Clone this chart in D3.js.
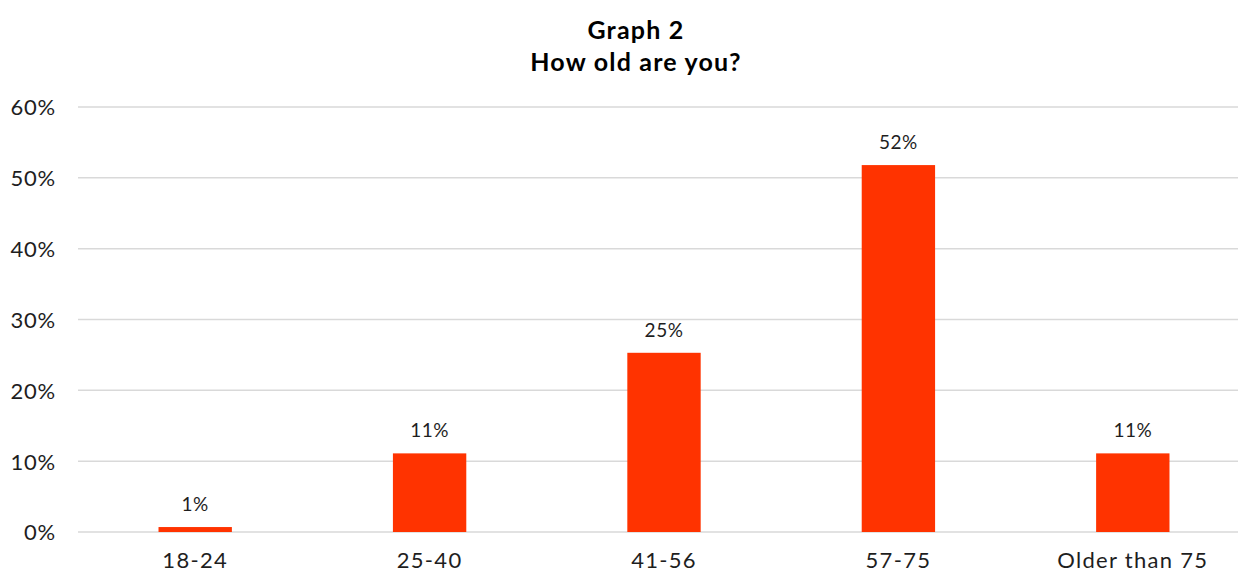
<!DOCTYPE html>
<html><head><meta charset="utf-8">
<script src="https://cdn.jsdelivr.net/npm/d3@7"></script>
<style>body{margin:0;background:#fff;overflow:hidden}svg{display:block}</style>
</head><body>
<svg id="c" width="1238" height="575"></svg>
<script>
const categories = ["18-24", "25-40", "41-56", "57-75", "Older than 75"];
const values = [0.7, 11.1, 25.3, 51.8, 11.1];
const valueLabels = ["1%", "11%", "25%", "52%", "11%"];
const yTicks = [0, 10, 20, 30, 40, 50, 60];
const titleLines = ["Graph 2", "How old are you?"];

const svg = d3.select("#c");
const font = "Lato, 'Open Sans', sans-serif";
const m = {left: 78, right: 1250, top: 107, bottom: 532};

const x = d3.scaleBand().domain(categories).range([m.left, m.right]).paddingInner(0.687).paddingOuter(0.3435);
const y = d3.scaleLinear().domain([0, 60]).range([m.bottom, m.top]);

svg.append("g").selectAll("line").data(yTicks).join("line")
  .attr("x1", m.left).attr("x2", m.right)
  .attr("y1", d => y(d)).attr("y2", d => y(d))
  .attr("stroke", "#d9d9d9").attr("stroke-width", 1.5);

const yAxis = svg.append("g").attr("transform", `translate(${m.left - 22},0)`)
  .call(d3.axisLeft(y).tickValues(yTicks).tickFormat(d => d + "%").tickSize(0).tickPadding(0));
yAxis.select(".domain").remove();
yAxis.selectAll("text").attr("font-family", font).attr("font-size", 22).attr("fill", "#1e1e1e")
  .attr("font-weight", 400).attr("letter-spacing", 0.8).attr("dy", "0.36em");

const xAxis = svg.append("g").attr("transform", `translate(0,${m.bottom})`)
  .call(d3.axisBottom(x).tickSize(0).tickPadding(20));
xAxis.select(".domain").remove();
xAxis.selectAll("text").attr("font-family", font).attr("font-size", 22).attr("fill", "#1e1e1e")
  .attr("font-weight", 400).attr("letter-spacing", 1.3);

svg.append("g").selectAll("rect").data(categories).join("rect")
  .attr("x", d => x(d)).attr("width", x.bandwidth())
  .attr("y", (d, i) => y(values[i])).attr("height", (d, i) => y(0) - y(values[i]))
  .attr("fill", "#ff3300");

svg.append("g").selectAll("text").data(categories).join("text")
  .attr("x", d => x(d) + x.bandwidth() / 2)
  .attr("y", (d, i) => y(values[i]) - 16)
  .attr("text-anchor", "middle")
  .attr("font-family", font).attr("font-size", 19).attr("font-weight", 400).attr("fill", "#1e1e1e")
  .attr("letter-spacing", 0.5)
  .text((d, i) => valueLabels[i]);

svg.append("g").selectAll("text").data(titleLines).join("text")
  .attr("x", 636).attr("y", (d, i) => 39 + i * 32)
  .attr("text-anchor", "middle")
  .attr("font-family", font).attr("font-size", 25).attr("font-weight", 700).attr("fill", "#000")
  .attr("letter-spacing", 1.2)
  .text(d => d);
</script>
</body></html>
